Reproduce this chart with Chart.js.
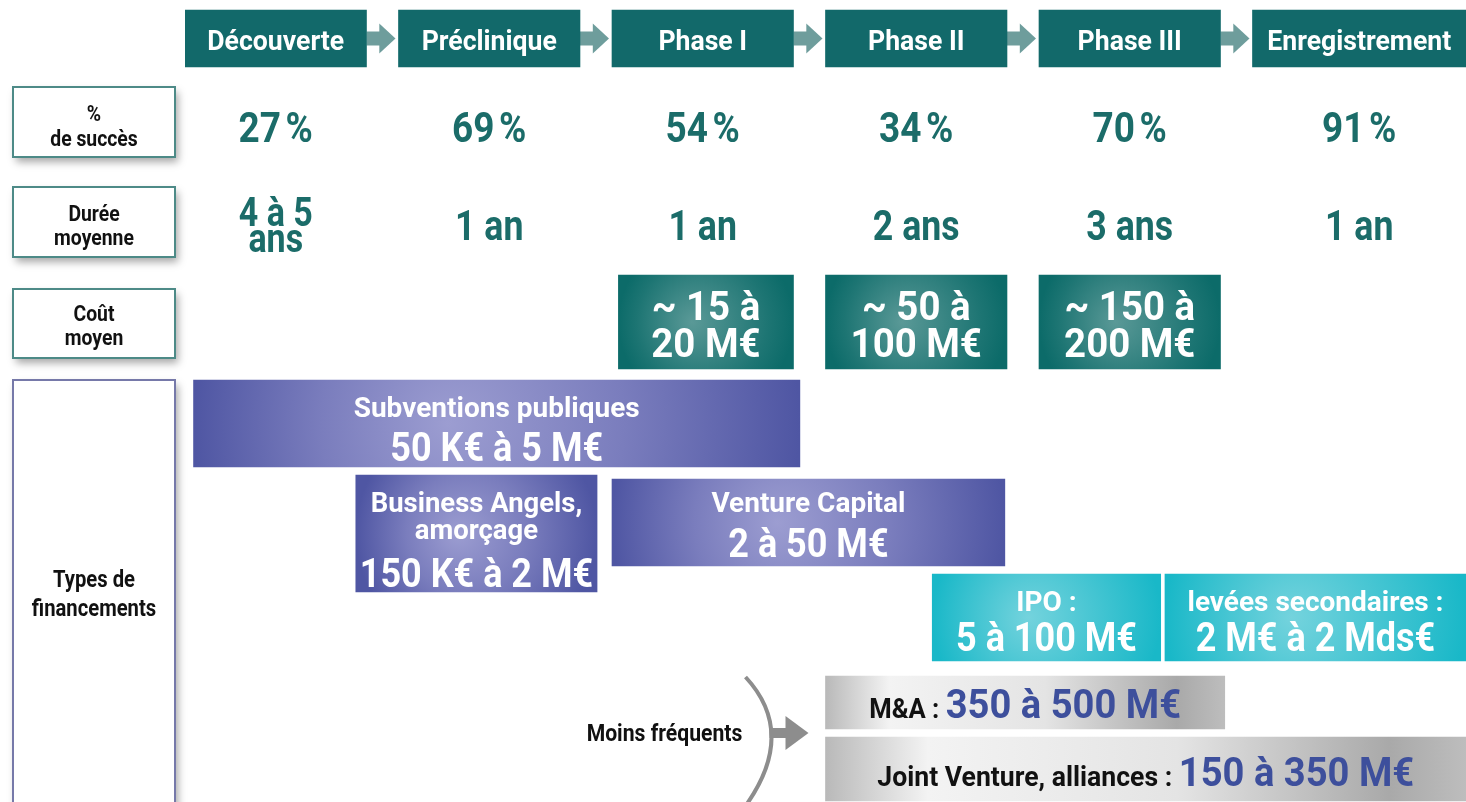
<!DOCTYPE html>
<html><head><meta charset="utf-8">
<script src="https://cdn.jsdelivr.net/npm/chart.js@4.4.0/dist/chart.umd.min.js"></script>
<style>html,body{margin:0;padding:0;background:#fff;overflow:hidden}canvas{display:block}</style>
</head><body>
<canvas id="c" width="1466" height="802"></canvas>
<script>
// ---------------- DATA ----------------
const PHASES = ['Découverte','Préclinique','Phase I','Phase II','Phase III','Enregistrement'];
const SUCCESS_RATE = [27,69,54,34,70,91];
const DURATION = [['4 à 5','ans'],['1 an'],['1 an'],['2 ans'],['3 ans'],['1 an']];
const COST_PHASE_INDEX = [2,3,4];
const COST_LABELS = [['~ 15 à','20 M€'],['~ 50 à','100 M€'],['~ 150 à','200 M€']];
const FUND_NAMES = [['Subventions publiques'],['Business Angels,','amorçage'],['Venture Capital'],['IPO :'],['levées secondaires :'],['M&A :'],['Joint Venture, alliances :']];
const FUND_AMOUNTS = ['50 K€ à 5 M€','150 K€ à 2 M€','2 à 50 M€','5 à 100 M€','2 M€ à 2 Mds€','350 à 500 M€','150 à 350 M€'];
const FUND_START = [0.04,0.80,2.00,3.50,4.59,3.00,3.00];
const FUND_END   = [2.88,1.93,3.84,4.57,6.00,4.87,6.00];
const ROW_LABELS = [['%','de succès'],['Durée','moyenne'],['Coût','moyen'],['Types de','financements']];
const LESS_FREQUENT = 'Moins fréquents';

// ---------------- LAYOUT / STYLE ----------------
const FONT = 'Roboto, "Open Sans", sans-serif';
const TEAL = '#12696a', TEXT_TEAL = '#1b6c69';
const HEADER_ROW = {top:10, bottom:67};
const COST_ROW = {top:275, bottom:369};
const FUND_ROWS = [[380,467],[475,592],[479,566],[574,661],[574,661],[676,729],[737,801]];
const FUND_STYLE = ['purple','purple','purple','cyan','cyan','grey','grey'];
const LABEL_BOXES = [[87,157],[187,257],[289,358],[380,812]];

function rowMid(r){return (r[0]+r[1])/2;}

function fillFor(kind){
  return function(ctx){
    const ch = ctx.chart, r = ctx.raw;
    const solid = {purple:'#555ca6',cyan:'#1dbbca',grey:'#c9c9c9',teal:'#0f6d6b'}[kind];
    if(!ch.chartArea || !r || !r.x) return solid;
    const xs = ch.scales.x, ys = ch.scales.y;
    const x0 = xs.getPixelForValue(r.x[0]), x1 = xs.getPixelForValue(r.x[1]);
    const yc = ys.getPixelForValue(r.y);
    const cx = (x0+x1)/2, c = ch.ctx;
    let g;
    if(kind==='grey'){
      g = c.createLinearGradient(x0,0,x1,0);
      g.addColorStop(0,'#b9b9b9'); g.addColorStop(0.16,'#f3f3f3'); g.addColorStop(0.55,'#e4e4e4'); g.addColorStop(0.88,'#a9a9a9'); g.addColorStop(1,'#bdbdbd');
      return g;
    }
    const rad = Math.max((x1-x0)/2, 60);
    g = c.createRadialGradient(cx - (x1-x0)*0.08, yc, 0, cx, yc, rad);
    if(kind==='purple'){ g.addColorStop(0,'#9c9dd1'); g.addColorStop(0.5,'#7a7dbd'); g.addColorStop(1,'#4f56a3'); }
    else if(kind==='cyan'){ g.addColorStop(0,'#74d3dd'); g.addColorStop(1,'#19b8c8'); }
    else { g.addColorStop(0,'#5a9997'); g.addColorStop(0.75,'#1d7573'); g.addColorStop(1,'#0c6b69'); }
    return g;
  };
}

const datasets = [];
datasets.push({label:'phases', data: PHASES.map((p,i)=>({x:[i, i===PHASES.length-1 ? 6 : i+0.85], y:rowMid([HEADER_ROW.top,HEADER_ROW.bottom])})),
  backgroundColor: TEAL, barThickness: HEADER_ROW.bottom-HEADER_ROW.top, grouped:false});
datasets.push({label:'cost', data: COST_PHASE_INDEX.map(i=>({x:[i+(i===2?0.03:0), i+0.85], y:rowMid([COST_ROW.top,COST_ROW.bottom])})),
  backgroundColor: fillFor('teal'), barThickness: COST_ROW.bottom-COST_ROW.top, grouped:false});
FUND_NAMES.forEach((n,i)=>{
  datasets.push({label:n.join(' '), data:[{x:[FUND_START[i],FUND_END[i]], y:rowMid(FUND_ROWS[i])}],
    backgroundColor: fillFor(FUND_STYLE[i]), barThickness: FUND_ROWS[i][1]-FUND_ROWS[i][0], grouped:false});
});

function T(c, s, x, y, size, color, sx, align){
  c.save(); c.font = 'bold '+size+'px '+FONT; c.fillStyle = color; c.textBaseline='alphabetic';
  c.textAlign = align||'center'; c.translate(x,y); c.scale(sx||0.9,1); c.fillText(s,0,0); c.restore();
}
function W(c, s, size, sx){ c.save(); c.font='bold '+size+'px '+FONT; const w=c.measureText(s).width*(sx||0.9); c.restore(); return w; }

const deco = {
  id:'deco',
  beforeDatasetsDraw(chart){
    const c = chart.ctx;
    LABEL_BOXES.forEach((b,i)=>{
      c.save();
      c.shadowColor='rgba(0,0,0,0.35)'; c.shadowBlur=8; c.shadowOffsetX=3; c.shadowOffsetY=5;
      c.fillStyle='#fff'; c.fillRect(13,b[0],162,b[1]-b[0]);
      c.restore();
      c.save(); c.strokeStyle = i===3 ? '#7679a9' : '#4d8a87'; c.lineWidth=2;
      c.strokeRect(13,b[0],162,b[1]-b[0]); c.restore();
    });
    const hm = chart.getDatasetMeta(0).data;
    c.save(); c.fillStyle='#6e9d9c';
    for(let i=0;i<hm.length-1;i++){
      const xa = hm[i].x, xb = hm[i+1].base, yc = hm[i].y;
      c.fillRect(xa, yc-7, (xb-xa)*0.45, 14);
      c.beginPath(); c.moveTo(xa+(xb-xa)*0.4, yc-15); c.lineTo(xb-3, yc); c.lineTo(xa+(xb-xa)*0.4, yc+15); c.closePath(); c.fill();
    }
    c.restore();
    const ma = chart.getDatasetMeta(2+5).data[0];
    const jv = chart.getDatasetMeta(2+6).data[0];
    const ym = (ma.y+ma.height/2 + jv.y-jv.height/2)/2;
    const bx = ma.base - 80;
    c.save(); c.strokeStyle='#8d8d8d'; c.lineWidth=4;
    c.beginPath(); c.moveTo(bx, ma.y-ma.height/2+1); c.quadraticCurveTo(bx+52, ym, bx, 806); c.stroke();
    c.fillStyle='#8d8d8d';
    c.fillRect(bx+24, ym-5, 18, 10);
    c.beginPath(); c.moveTo(bx+40, ym-17); c.lineTo(bx+63, ym); c.lineTo(bx+40, ym+17); c.closePath(); c.fill();
    c.restore();
    T(c, LESS_FREQUENT, bx-81, ym+8, 23, '#111', 0.92);
  },
  afterDatasetsDraw(chart){
    const c = chart.ctx;
    const hm = chart.getDatasetMeta(0).data;
    const centers = hm.map(e=>(e.x+e.base)/2);
    hm.forEach((e,i)=>T(c, PHASES[i], centers[i], e.y+11, 28, '#fff', 0.95));
    SUCCESS_RATE.forEach((v,i)=>T(c, v+'\u202F%', centers[i], 142, 42, TEXT_TEAL, 0.88));
    DURATION.forEach((d,i)=>{
      if(d.length===1) T(c, d[0], centers[i], 240, 42, TEXT_TEAL, 0.85);
      else { T(c, d[0], centers[i], 226, 40, TEXT_TEAL, 0.85); T(c, d[1], centers[i], 252, 40, TEXT_TEAL, 0.85); }
    });
    const cm = chart.getDatasetMeta(1).data;
    cm.forEach((e,i)=>{ const cx=(e.x+e.base)/2; T(c, COST_LABELS[i][0], cx, e.y-2, 40, '#fff', 0.96); T(c, COST_LABELS[i][1], cx, e.y+35, 40, '#fff', 0.96); });
    const lb = [[121,146],[221,245],[321,345],[587,616]];
    ROW_LABELS.forEach((l,i)=>{ const s = i===3?23:22; T(c,l[0],94,lb[i][0],s,'#111',0.88); T(c,l[1],94,lb[i][1],s,'#111',0.88); });
    FUND_NAMES.forEach((n,i)=>{
      const e = chart.getDatasetMeta(2+i).data[0];
      const cx = (e.x+e.base)/2, top = e.y - e.height/2;
      if(FUND_STYLE[i]==='grey'){
        const nameSize = i===5 ? 27 : 28, amtSize = 41;
        const wn = W(c, n[0]+' ', nameSize, 0.95), wa = W(c, FUND_AMOUNTS[i], amtSize, 0.93);
        const x0 = cx - (wn+wa)/2, yb = e.y + e.height/2 - (i===5?11:15);
        T(c, n[0]+' ', x0, yb, nameSize, '#111', 0.95, 'left');
        T(c, FUND_AMOUNTS[i], x0+wn, yb, amtSize, '#3d4f9c', 0.93, 'left');
        return;
      }
      if(i===1){
        T(c, n[0], cx, top+37, 28, '#fff', 0.98);
        T(c, n[1], cx, top+64, 28, '#fff', 0.98);
        T(c, FUND_AMOUNTS[i], cx, top+112, 40, '#fff', 0.9);
      } else {
        T(c, n[0], cx, top+(i===0?37:i===2?33:37), 28, '#fff', 1.0);
        T(c, FUND_AMOUNTS[i], cx, top+(i===0?81:i===2?78:77), 40, '#fff', 0.9);
      }
    });
  }
};

new Chart(document.getElementById('c'), {
  type:'bar',
  data:{datasets},
  options:{
    indexAxis:'y', responsive:false, animation:false, events:[],
    layout:{padding:{left:185,right:0,top:0,bottom:0}},
    plugins:{legend:{display:false}, tooltip:{enabled:false}},
    scales:{
      x:{type:'linear', min:0, max:6, display:false, offset:false},
      y:{type:'linear', min:0, max:802, reverse:true, display:false, offset:false}
    },
    elements:{bar:{borderWidth:0, borderSkipped:false}}
  },
  plugins:[deco]
});
</script>
</body></html>
